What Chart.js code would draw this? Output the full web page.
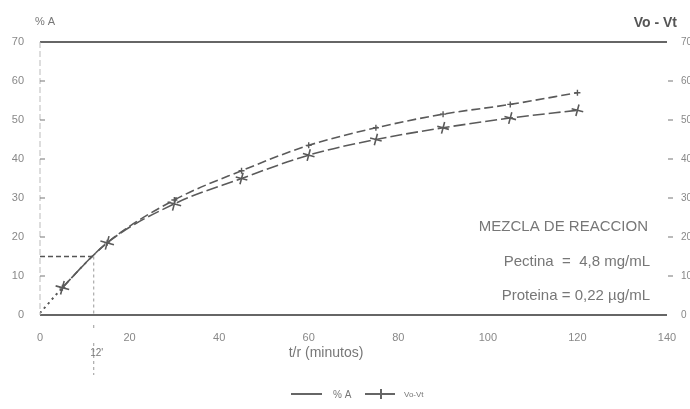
<!DOCTYPE html>
<html>
<head>
<meta charset="utf-8">
<script src="https://cdn.jsdelivr.net/npm/chart.js@4/dist/chart.umd.min.js"></script>
<style>
  html, body { margin: 0; padding: 0; background: #fff; }
  canvas { display: block; }
</style>
</head>
<body>
<canvas id="chart" width="690" height="409"></canvas>
<script>
// times in minutes
const timesA = [0, 5, 15, 30, 45, 60, 75, 90, 105, 120];
const percentA = [0.5, 7, 18.5, 29.5, 37, 43.5, 48, 51.5, 54, 57];
const timesV = [0, 5, 15, 30, 45, 60, 75, 90, 105, 120];
const voVt = [0.5, 7, 18.5, 28.5, 35, 41, 45, 48, 50.5, 52.5];
const xTicks = [0, 20, 40, 60, 80, 100, 120, 140];
const yTicks = [0, 10, 20, 30, 40, 50, 60, 70];
const refTime = 12;
const refValue = 15;
const notes = ['MEZCLA DE REACCION', 'Pectina  =  4,8 mg/mL', 'Proteina = 0,22 µg/mL'];

const ink = '#5a5a5a';

const toPoints = (xs, ys) => xs.map((x, i) => ({ x: x, y: ys[i] }));

// dotted first segment, dashed after
const segStyle = {
    borderDash: ctx => ctx.p0DataIndex === 0 ? [2, 4] : undefined
};

const extras = {
    id: 'extras',
    afterDraw(chart) {
        const c = chart.ctx;
        const x = chart.scales.x;
        const y = chart.scales.y;
        const area = chart.chartArea;
        c.save();

        // frame lines at 0 and 70
        c.strokeStyle = '#666';
        c.lineWidth = 2;
        c.beginPath();
        c.moveTo(area.left, y.getPixelForValue(70));
        c.lineTo(area.right, y.getPixelForValue(70));
        c.moveTo(area.left, y.getPixelForValue(0));
        c.lineTo(area.right, y.getPixelForValue(0));
        c.stroke();

        // faint left axis
        c.strokeStyle = '#bbb';
        c.lineWidth = 1;
        c.setLineDash([6, 3]);
        c.beginPath();
        c.moveTo(area.left, area.top);
        c.lineTo(area.left, area.bottom);
        c.stroke();
        c.setLineDash([]);

        // tick marks
        c.strokeStyle = '#777';
        c.lineWidth = 1.2;
        yTicks.slice(1, -1).forEach(v => {
            const py = y.getPixelForValue(v);
            c.beginPath();
            c.moveTo(area.left, py);
            c.lineTo(area.left + 5, py);
            c.moveTo(area.right + 1, py);
            c.lineTo(area.right + 6, py);
            c.stroke();
        });

        // reference lines at 12'
        const rx = x.getPixelForValue(refTime);
        const ry = y.getPixelForValue(refValue);
        c.strokeStyle = '#555';
        c.lineWidth = 1.5;
        c.setLineDash([5, 3]);
        c.beginPath();
        c.moveTo(x.getPixelForValue(0), ry);
        c.lineTo(rx, ry);
        c.stroke();
        c.strokeStyle = '#999';
        c.lineWidth = 1;
        c.setLineDash([3, 3]);
        c.beginPath();
        c.moveTo(rx, ry);
        c.lineTo(rx, y.getPixelForValue(0));
        c.moveTo(rx, area.bottom + 10);
        c.lineTo(rx, area.bottom + 13);
        c.moveTo(rx, area.bottom + 28);
        c.lineTo(rx, area.bottom + 60);
        c.stroke();
        c.setLineDash([]);

        c.fillStyle = '#777';
        c.font = '10px "Liberation Sans"';
        c.textAlign = 'center';
        c.textBaseline = 'middle';
        c.fillText("12'", rx + 3, area.bottom + 38);

        // axis title
        c.font = '14px "Liberation Sans"';
        c.fillStyle = '#777';
        c.fillText('t/r (minutos)', 326, 353);

        // corner titles
        c.textAlign = 'left';
        c.font = '11px "Liberation Sans"';
        c.fillStyle = '#777';
        c.fillText('% A', 35, 22);
        c.textAlign = 'right';
        c.font = 'bold 14px "Liberation Sans"';
        c.fillStyle = '#555';
        c.fillText('Vo - Vt', 677, 23);

        // annotation block
        c.font = '15px "Liberation Sans"';
        c.fillStyle = '#777';
        c.textAlign = 'right';
        c.fillText(notes[0], 648, 227);
        c.fillText(notes[1], 650, 262);
        c.fillText(notes[2], 650, 296);

        // legend
        c.strokeStyle = '#666';
        c.lineWidth = 2;
        c.beginPath();
        c.moveTo(291, 394); c.lineTo(322, 394);
        c.moveTo(365, 394); c.lineTo(395, 394);
        c.moveTo(381, 389); c.lineTo(381, 399);
        c.stroke();
        c.textAlign = 'left';
        c.fillStyle = '#777';
        c.font = '10px "Liberation Sans"';
        c.fillText('% A', 333, 395);
        c.font = '8px "Liberation Sans"';
        c.fillText('Vo-Vt', 404, 395);

        c.restore();
    }
};

new Chart(document.getElementById('chart'), {
    type: 'line',
    data: {
        datasets: [
            {
                label: '% A',
                data: toPoints(timesA, percentA),
                borderColor: ink,
                borderWidth: 1.6,
                borderDash: [9, 4],
                segment: segStyle,
                pointStyle: 'cross',
                pointRadius: ctx => ctx.dataIndex === 0 ? 0 : 3,
                pointBorderColor: ink,
                pointBorderWidth: 1.4,
                cubicInterpolationMode: 'monotone',
                yAxisID: 'y'
            },
            {
                label: 'Vo-Vt',
                data: toPoints(timesV, voVt),
                borderColor: ink,
                borderWidth: 1.6,
                borderDash: [12, 4],
                segment: segStyle,
                pointStyle: 'cross',
                pointRadius: ctx => ctx.dataIndex === 0 ? 0 : (ctx.dataIndex < 4 ? 7 : 6),
                pointRotation: 15,
                pointBorderColor: ink,
                pointBorderWidth: 1.6,
                cubicInterpolationMode: 'monotone',
                yAxisID: 'y2'
            }
        ]
    },
    options: {
        responsive: false,
        animation: false,
        layout: { padding: { top: 42, left: 0, right: 0, bottom: 0 } },
        plugins: { legend: { display: false }, tooltip: { enabled: false } },
        scales: {
            x: {
                type: 'linear',
                min: 0,
                max: 140,
                border: { display: false },
                grid: { display: false },
                afterBuildTicks: s => { s.ticks = xTicks.map(v => ({ value: v })); },
                afterFit: s => { s.height = 94; },
                ticks: { color: '#888', font: { size: 11, family: 'Liberation Sans' }, padding: 8, maxRotation: 0 }
            },
            y: {
                position: 'left',
                min: 0,
                max: 70,
                border: { display: false },
                grid: { display: false },
                afterBuildTicks: s => { s.ticks = yTicks.map(v => ({ value: v })); },
                afterFit: s => { s.width = 40; },
                ticks: { color: '#888', font: { size: 11, family: 'Liberation Sans' }, padding: 8 }
            },
            y2: {
                position: 'right',
                min: 0,
                max: 70,
                border: { display: false },
                grid: { display: false },
                afterBuildTicks: s => { s.ticks = yTicks.map(v => ({ value: v })); },
                afterFit: s => { s.width = 23; },
                ticks: { color: '#888', font: { size: 10, family: 'Liberation Sans' }, padding: 6 }
            }
        }
    },
    plugins: [extras]
});
</script>
</body>
</html>
